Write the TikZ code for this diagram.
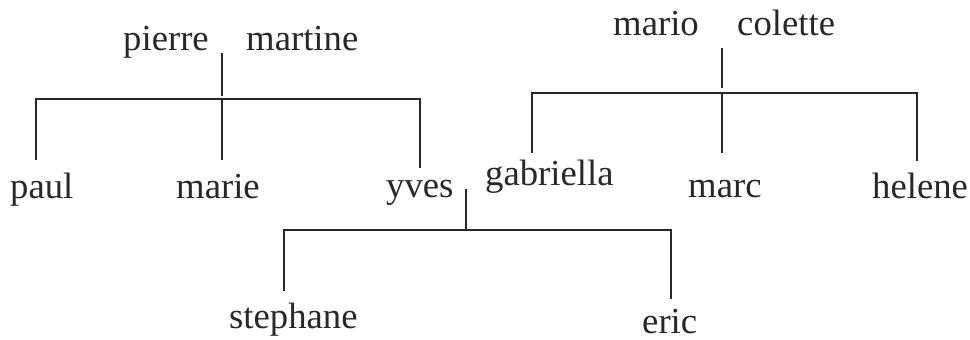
\documentclass[tikz,border=0pt]{standalone}
\usepackage{fontspec}
\setmainfont{Liberation Serif}
\definecolor{ink}{RGB}{40,40,40}
\begin{document}
\begin{tikzpicture}[x=1pt,y=-1pt,
  person/.style={anchor=base west,inner sep=0pt,text=ink,font=\fontsize{36.7}{44}\selectfont},
  link/.style={draw=ink,line width=1.6pt}]
\useasboundingbox (0,0) rectangle (970,340);
% names
\node[person] (pierre) at (123,50) {pierre};
\node[person] (martine) at (246,50) {martine};
\node[person] (mario) at (613,35) {mario};
\node[person] (colette) at (737,35) {colette};
\node[person] (paul) at (10,198) {paul};
\node[person] (marie) at (176,198) {marie};
\node[person] (yves) at (386,197) {yves};
\node[person] (gabriella) at (485,185) {gabriella};
\node[person] (marc) at (688,197) {marc};
\node[person] (helene) at (872,198) {helene};
\node[person] (stephane) at (229,328) {stephane};
\node[person] (eric) at (642,333) {eric};
% family 1
\coordinate (c1) at (222,53);
\coordinate (j1) at (222,96);
\coordinate (l1) at (36,99);
\coordinate (m1) at (222,99);
\coordinate (r1) at (420,99);
\coordinate (paulT) at (36,160);
\coordinate (marieT) at (222,160);
\coordinate (yvesT) at (420,168);
\draw[link] (c1) -- (j1);
\draw[link] (paulT) -- (l1) -- (r1) -- (yvesT);
\draw[link] (m1) -- (marieT);
% family 2
\coordinate (c2) at (722,48);
\coordinate (j2) at (722,88);
\coordinate (l2) at (532,93);
\coordinate (m2) at (722,93);
\coordinate (r2) at (917,93);
\coordinate (gabT) at (532,153);
\coordinate (marcT) at (722,153);
\coordinate (helT) at (917,161);
\draw[link] (c2) -- (j2);
\draw[link] (gabT) -- (l2) -- (r2) -- (helT);
\draw[link] (m2) -- (marcT);
% family 3
\coordinate (c3) at (466,189);
\coordinate (j3) at (466,230);
\coordinate (l3) at (284,230);
\coordinate (r3) at (671,230);
\coordinate (stT) at (284,291);
\coordinate (erT) at (671,299);
\draw[link] (c3) -- (j3);
\draw[link] (stT) -- (l3) -- (r3) -- (erT);
\end{tikzpicture}
\end{document}
